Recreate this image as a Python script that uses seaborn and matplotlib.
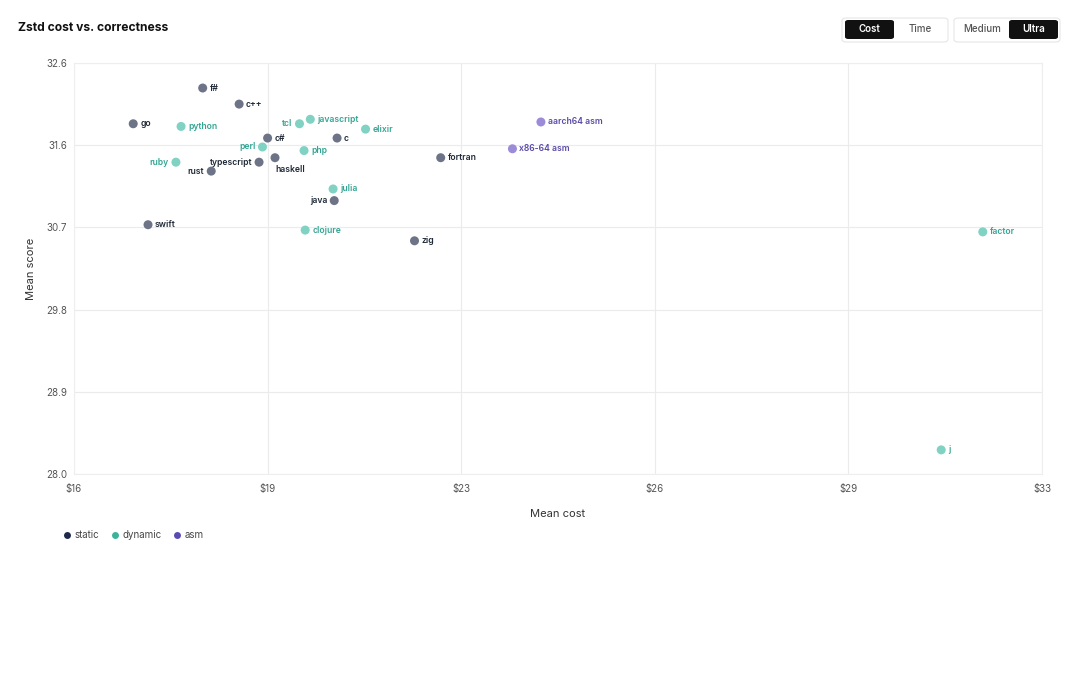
import matplotlib
matplotlib.use("Agg")
import matplotlib.pyplot as plt
from matplotlib.patches import FancyBboxPatch
from matplotlib.lines import Line2D
import seaborn as sns
import pandas as pd
import numpy as np

# data
languages = ["f#", "c++", "go", "python", "tcl", "javascript", "elixir", "c#", "c",
             "perl", "php", "ruby", "typescript", "haskell", "rust", "julia", "java",
             "swift", "clojure", "aarch64 asm", "x86-64 asm", "fortran", "zig",
             "factor", "j"]
kinds = ["static", "static", "static", "dynamic", "dynamic", "dynamic", "dynamic",
         "static", "static", "dynamic", "dynamic", "dynamic", "static", "static",
         "static", "dynamic", "static", "static", "dynamic", "asm", "asm",
         "static", "static", "dynamic", "dynamic"]
mean_cost = [18.26, 18.90, 17.04, 17.88, 19.96, 20.15, 21.12, 19.40, 20.62,
             19.31, 20.04, 17.79, 19.25, 19.53, 18.41, 20.55, 20.57,
             17.30, 20.06, 24.20, 23.70, 22.44, 21.98, 31.96, 31.23]
mean_score = [32.32, 32.14, 31.92, 31.89, 31.92, 31.97, 31.86, 31.76, 31.76,
              31.66, 31.62, 31.49, 31.49, 31.54, 31.39, 31.19, 31.06,
              30.79, 30.73, 31.94, 31.64, 31.54, 30.61, 30.71, 28.27]
# where each label sits relative to its point
label_side = {"tcl": "left", "perl": "left", "ruby": "left", "typescript": "left",
              "rust": "left", "java": "left", "haskell": "below"}

x_ticks_labels = ["$16", "$19", "$23", "$26", "$29", "$33"]
y_ticks_labels = ["28.0", "28.9", "29.8", "30.7", "31.6", "32.6"]
x_min, x_max = 16, 33
y_min, y_max = 28.0, 32.6

kind_order = ["static", "dynamic", "asm"]
solid = {"static": "#1e2a4a", "dynamic": "#3bb39c", "asm": "#5a4bb3"}
point_col = {"static": "#6e7488", "dynamic": "#80d2c3", "asm": "#9c8bd8"}
label_col = {"static": "#1f2937", "dynamic": "#35a593", "asm": "#5a4aa8"}

df = pd.DataFrame({"language": languages, "kind": kinds,
                   "cost": mean_cost, "score": mean_score})

plt.rcParams["font.family"] = ["Inter", "DejaVu Sans"]
fig = plt.figure(figsize=(10.8, 6.94), dpi=100)
ax = fig.add_axes([74 / 1080, 1 - 474 / 694, 968 / 1080, 411 / 694])

sns.scatterplot(data=df, x="cost", y="score", hue="kind", hue_order=kind_order,
                palette=point_col, s=42, edgecolor="none", legend=False, ax=ax,
                zorder=3)

for _, r in df.iterrows():
    side = label_side.get(r["language"], "right")
    if side == "left":
        off, ha, va = (-5, 0), "right", "center"
    elif side == "below":
        off, ha, va = (0, -5), "left", "top"
    else:
        off, ha, va = (5, 0), "left", "center"
    ax.annotate(r["language"], (r["cost"], r["score"]), xytext=off,
                textcoords="offset points", ha=ha, va=va, fontsize=6.2,
                fontweight="semibold", color=label_col[r["kind"]], zorder=4)

ax.set_xlim(x_min, x_max)
ax.set_ylim(y_min, y_max)
ax.set_xticks(np.linspace(x_min, x_max, len(x_ticks_labels)))
ax.set_xticklabels(x_ticks_labels)
ax.set_yticks(np.linspace(y_min, y_max, len(y_ticks_labels)))
ax.set_yticklabels(y_ticks_labels)
ax.tick_params(length=0, labelsize=7, labelcolor="#555555")
ax.tick_params(axis="x", pad=7)
ax.tick_params(axis="y", pad=5)
ax.grid(True, color="#ebebeb", linewidth=0.8, zorder=0)
ax.set_axisbelow(True)
for s in ax.spines.values():
    s.set_color("#eeeeee")
    s.set_linewidth(0.8)
ax.set_xlabel("Mean cost", fontsize=8, color="#333333", labelpad=11)
ax.set_ylabel("Mean score", fontsize=8, color="#333333", labelpad=7)

fig.text(18 / 1080, 1 - 28 / 694, "Zstd cost vs. correctness", fontsize=8.7,
         fontweight="bold", color="#111111", va="center")

# toggle buttons in the top-right corner
def button(x0, x1, text, dark):
    y0, y1 = 20, 39
    p = FancyBboxPatch((x0 / 1080, 1 - y1 / 694), (x1 - x0) / 1080, (y1 - y0) / 694,
                       boxstyle="round,pad=0,rounding_size=0.003",
                       facecolor="#111111" if dark else "white",
                       edgecolor="none", transform=fig.transFigure)
    fig.patches.append(p)
    fig.text((x0 + x1) / 2 / 1080, 1 - (y0 + y1) / 2 / 694, text, ha="center",
             va="center", fontsize=7, fontweight="semibold" if dark else "medium",
             color="white" if dark else "#555555")

for gx0, gx1 in [(842, 948), (954, 1060)]:
    g = FancyBboxPatch((gx0 / 1080, 1 - 42 / 694), (gx1 - gx0) / 1080, 24 / 694,
                       boxstyle="round,pad=0,rounding_size=0.004",
                       facecolor="white", edgecolor="#e6e6e6", linewidth=0.8,
                       transform=fig.transFigure)
    fig.patches.append(g)
button(845, 894, "Cost", True)
button(896, 945, "Time", False)
button(957, 1007, "Medium", False)
button(1009, 1058, "Ultra", True)

handles = [Line2D([], [], marker="o", linestyle="none", markersize=5,
                  markerfacecolor=solid[k], markeredgecolor="none", label=k)
           for k in kind_order]
fig.legend(handles=handles, loc="center left", bbox_to_anchor=(52 / 1080, 1 - 535 / 694),
           ncol=3, frameon=False, fontsize=7, handletextpad=0.2, columnspacing=1.0,
           handlelength=1.2, labelcolor="#444444")

fig.savefig("out.png", dpi=100)
